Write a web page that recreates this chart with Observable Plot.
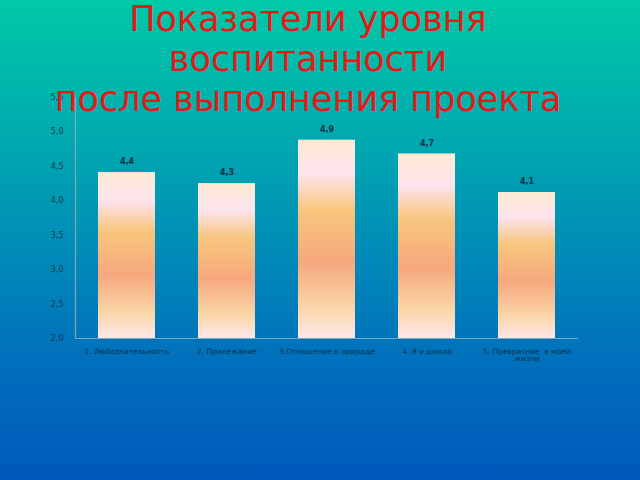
<!DOCTYPE html>
<html>
<head>
<meta charset="utf-8">
<script src="https://cdn.jsdelivr.net/npm/d3@7"></script>
<script src="https://cdn.jsdelivr.net/npm/@observablehq/plot@0.6"></script>
<style>
  html, body { margin: 0; padding: 0; }
  #wrap {
    position: relative; width: 640px; height: 480px; overflow: hidden;
    background: linear-gradient(to bottom, #00c9a7 0%, #00a8b0 30%, #0088b8 55%, #0070bc 75%, #0058bb 100%);
    font-family: "DejaVu Sans", sans-serif;
  }
  #title {
    position: absolute; left: -12px; top: -1px; width: 640px; text-align: center;
    color: #e81818; font-size: 35px; line-height: 40px; z-index: 2; pointer-events: none;
  }
  #chart { position: absolute; left: 0; top: 0; z-index: 1; }
</style>
</head>
<body>
<div id="wrap">
  <div id="title">Показатели уровня<br>воспитанности<br>после выполнения проекта</div>
  <div id="chart"></div>
</div>
<script>
const categories = ["1. Любознательность", "2. Прилежание", "3.Отношение к природе", "4. Я и школа", "5. Прекрасное  в моей жизни"];
const tickLabels = ["1. Любознательность", "2. Прилежание", "3.Отношение к природе", "4. Я и школа", "5. Прекрасное  в моей\nжизни"];
const values = [4.41, 4.25, 4.88, 4.68, 4.12];
const valueLabels = ["4,4", "4,3", "4,9", "4,7", "4,1"];
const yTicks = [2.0, 2.5, 3.0, 3.5, 4.0, 4.5, 5.0, 5.5];

const data = categories.map((c, i) => ({cat: c, value: values[i], label: valueLabels[i]}));
const fmt = d => d3.format(".1f")(d).replace(".", ",");
const xFmt = d => tickLabels[categories.indexOf(d)];

const defs = () => {
  const d = d3.create("svg:defs");
  const g = d.append("linearGradient").attr("id", "barGrad")
    .attr("x1", 0).attr("y1", 0).attr("x2", 0).attr("y2", 1);
  [[0, "#fdead2"], [0.17, "#fde4ef"], [0.36, "#f8c57c"], [0.62, "#f6a87e"], [0.85, "#fbd6a8"], [1, "#fde8ea"]]
    .forEach(([o, c]) => g.append("stop").attr("offset", o).attr("stop-color", c));
  return d.node();
};

const leftLine = (index, scales, values, dims) => {
  const l = d3.create("svg:line")
    .attr("x1", dims.marginLeft + 0.5).attr("x2", dims.marginLeft + 0.5)
    .attr("y1", scales.y(5.5)).attr("y2", scales.y(2))
    .attr("stroke", "#7fa9b8").attr("stroke-width", 1.2);
  return l.node();
};

const chart = Plot.plot({
  width: 640,
  height: 480,
  marginLeft: 75,
  marginRight: 62,
  marginTop: 97,
  marginBottom: 142,
  style: {background: "transparent", fontFamily: "'DejaVu Sans', sans-serif", overflow: "visible"},
  x: {domain: categories, paddingInner: 0.43, paddingOuter: 0.215, label: null},
  y: {domain: [2, 5.5], label: null},
  marks: [
    defs,
    Plot.barY(data, {x: "cat", y1: 2, y2: "value", fill: "url(#barGrad)"}),
    Plot.ruleY([2], {stroke: "#7fa9b8", strokeWidth: 1.2}),
    leftLine,
    Plot.axisY({ticks: yTicks, tickFormat: fmt, tickSize: 0, tickPadding: 12, fontSize: 8, fill: "#16384a"}),
    Plot.axisX({tickSize: 0, tickPadding: 10, fontSize: 7.5, fill: "#10304a", tickFormat: xFmt, lineWidth: 40, textOverflow: null}),
    Plot.text(data, {x: "cat", y: "value", text: "label", dy: -11, fontSize: 8, fontWeight: "bold", fill: "#10304a"})
  ]
});
document.getElementById("chart").appendChild(chart);
</script>
</body>
</html>
